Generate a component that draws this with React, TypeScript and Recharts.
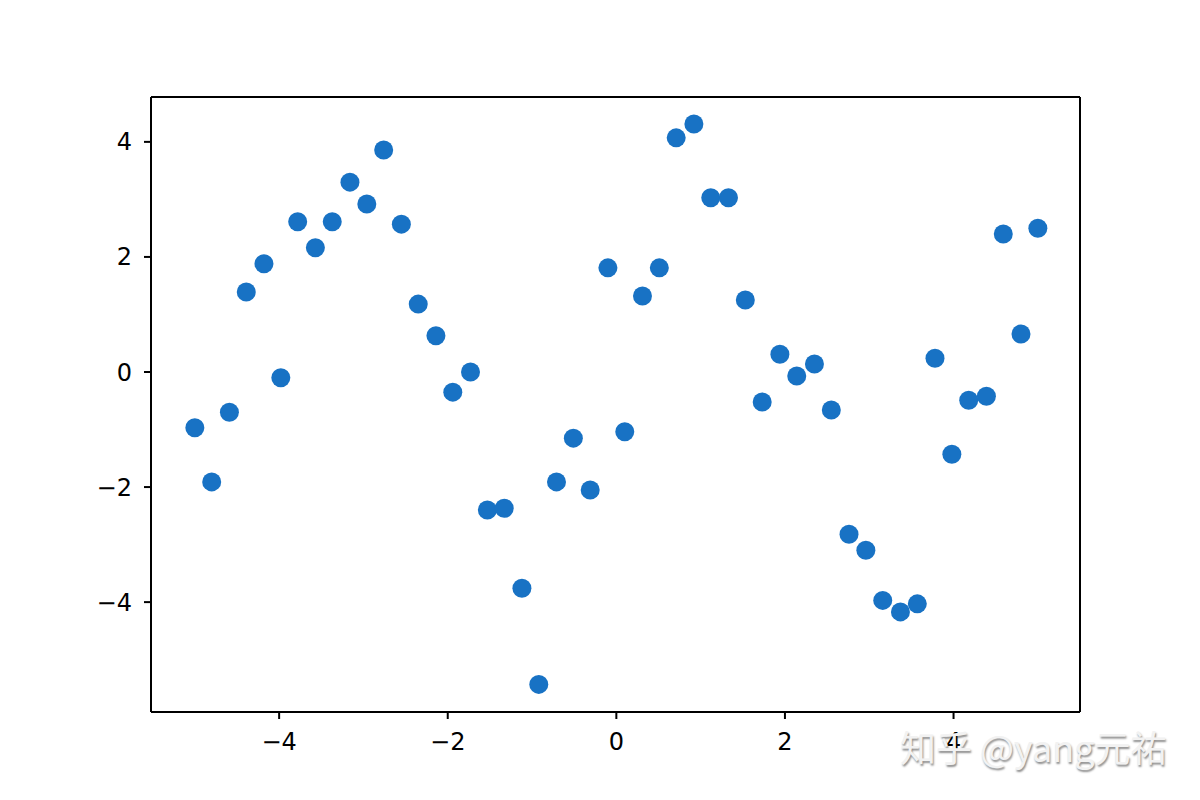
import React from 'react';
import { ScatterChart, Scatter, XAxis, YAxis, ReferenceLine } from 'recharts';

const xValues = [
  -5.0, -4.8, -4.59, -4.39, -4.18, -3.98, -3.78, -3.57, -3.37, -3.16,
  -2.96, -2.76, -2.55, -2.35, -2.14, -1.94, -1.73, -1.53, -1.33, -1.12,
  -0.92, -0.71, -0.51, -0.31, -0.1, 0.1, 0.31, 0.51, 0.71, 0.92,
  1.12, 1.33, 1.53, 1.73, 1.94, 2.14, 2.35, 2.55, 2.76, 2.96,
  3.16, 3.37, 3.57, 3.78, 3.98, 4.18, 4.39, 4.59, 4.8, 5.0,
];

const yValues = [
  -0.97, -1.91, -0.7, 1.39, 1.88, -0.1, 2.61, 2.16, 2.61, 3.3,
  2.92, 3.86, 2.57, 1.18, 0.63, -0.35, 0.0, -2.4, -2.37, -3.76,
  -5.43, -1.91, -1.15, -2.05, 1.81, -1.04, 1.32, 1.81, 4.07, 4.31,
  3.03, 3.03, 1.25, -0.52, 0.31, -0.07, 0.14, -0.66, -2.82, -3.1,
  -3.97, -4.17, -4.03, 0.24, -1.43, -0.49, -0.42, 2.4, 0.66, 2.5,
];

const xTicks = [-4, -2, 0, 2, 4];
const yTicks = [-4, -2, 0, 2, 4];
const xDomain = [-5.52, 5.5];
const yDomain = [-5.91, 4.78];
const watermark = '知乎 @yang元祐';

const points = xValues.map((x, i) => ({ x, y: yValues[i] }));

const fmt = (v: number) => (v < 0 ? '\u2212' + Math.abs(v) : String(v));

const tickStyle = { fill: '#000', fontSize: 24, fontFamily: 'DejaVu Sans' };

const Dot = (props: any) => {
  const { cx, cy } = props;
  if (cx == null || cy == null) return null;
  return <circle cx={cx} cy={cy} r={9.5} fill="#1872c4" />;
};

export default function App() {
  return (
    <div style={{ position: 'absolute', left: 0, top: 0, width: 1200, height: 800, background: '#fff' }}>
      <ScatterChart
        width={1200}
        height={800}
        margin={{ top: 97, right: 120, bottom: 0, left: 0 }}
      >
        <XAxis
          type="number"
          dataKey="x"
          domain={xDomain}
          ticks={xTicks}
          allowDataOverflow
          tickFormatter={fmt}
          tick={tickStyle}
          tickLine={{ stroke: '#000', strokeWidth: 2 }}
          tickSize={7}
          tickMargin={14}
          axisLine={{ stroke: '#000', strokeWidth: 2 }}
          height={88}
        />
        <YAxis
          type="number"
          dataKey="y"
          domain={yDomain}
          ticks={yTicks}
          allowDataOverflow
          tickFormatter={fmt}
          tick={tickStyle}
          tickLine={{ stroke: '#000', strokeWidth: 2 }}
          tickSize={7}
          tickMargin={12}
          axisLine={{ stroke: '#000', strokeWidth: 2 }}
          width={151}
        />
        <ReferenceLine y={yDomain[1]} stroke="#000" strokeWidth={2} />
        <ReferenceLine x={xDomain[1]} stroke="#000" strokeWidth={2} />
        <Scatter
          data={points}
          shape={<Dot />}
          isAnimationActive={false}
        />
      </ScatterChart>
      <div
        style={{
          position: 'absolute',
          left: 900,
          top: 722,
          fontSize: 36,
          fontFamily: '"Noto Sans CJK SC", "DejaVu Sans", sans-serif',
          color: '#f2f2f2',
          textShadow: '1px 2px 2px rgba(0,0,0,0.45)',
          whiteSpace: 'nowrap',
          lineHeight: '48px',
        }}
      >
        {watermark}
      </div>
    </div>
  );
}
